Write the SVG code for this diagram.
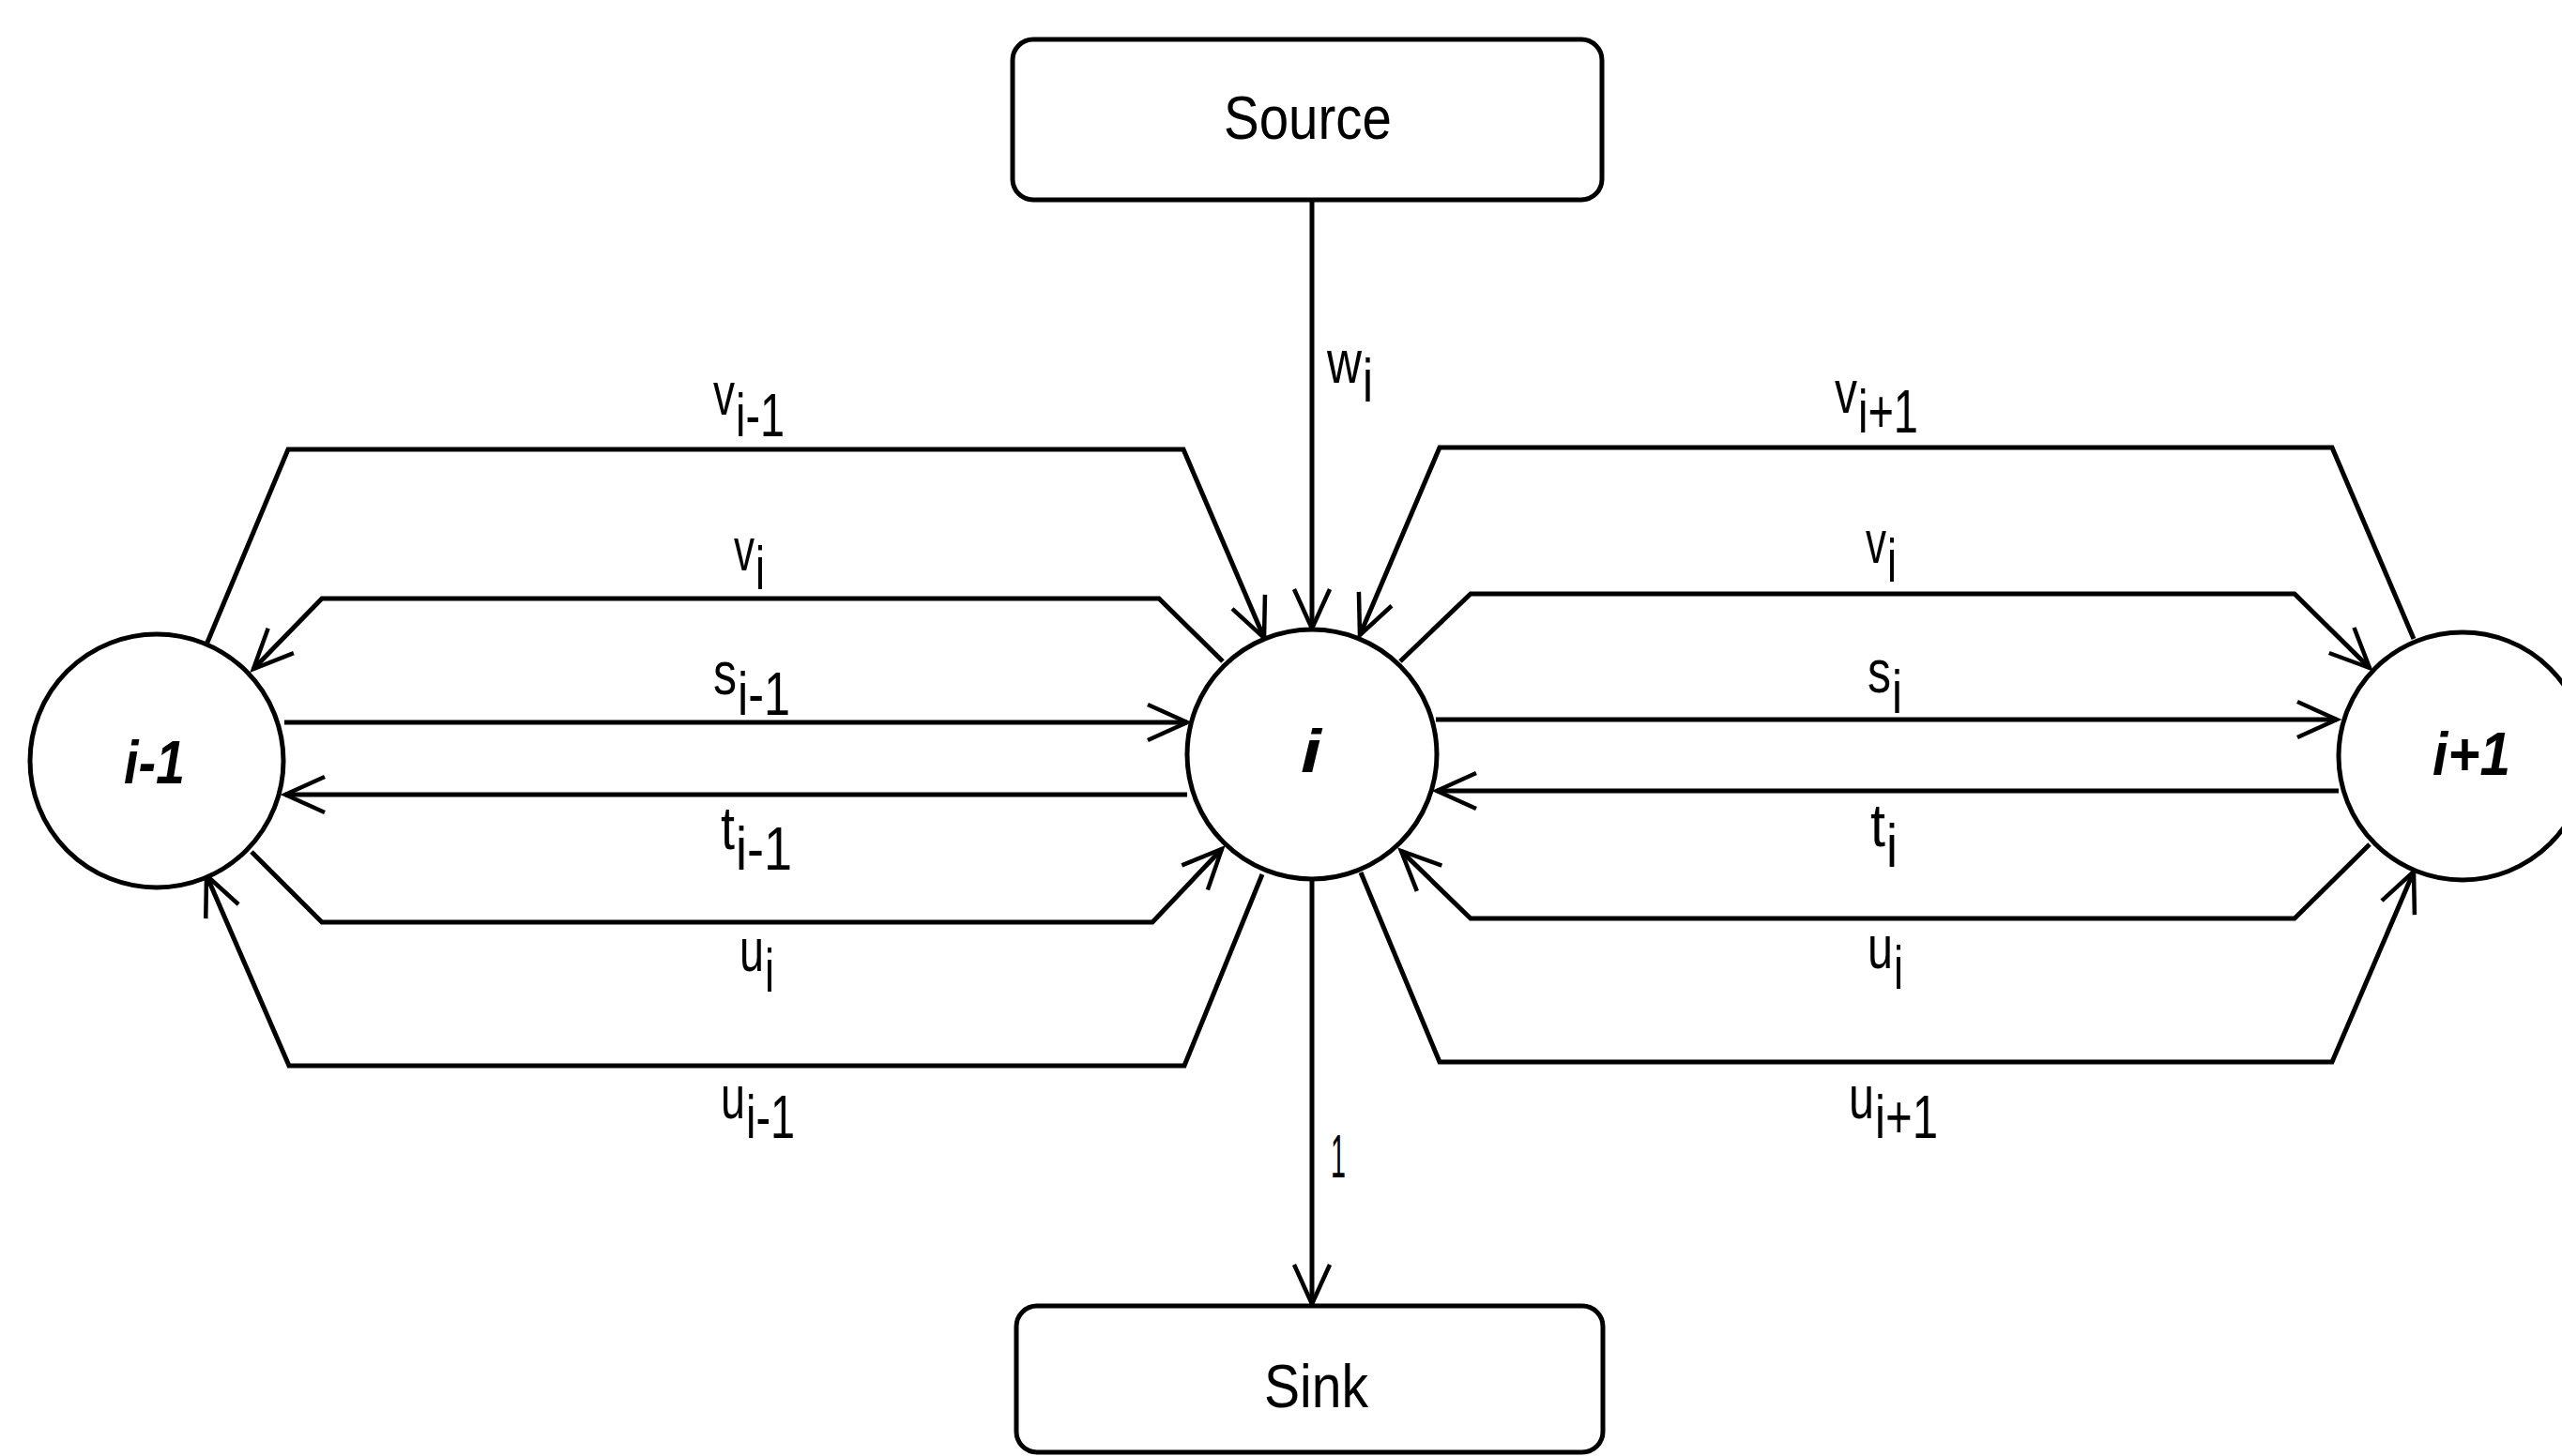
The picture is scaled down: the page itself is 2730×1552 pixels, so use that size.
<svg xmlns="http://www.w3.org/2000/svg" width="2730" height="1552" viewBox="0 0 2730 1552">
<style>
.node{fill:#fff;stroke:#000;stroke-width:5}
.edge{fill:none;stroke:#000;stroke-width:5;stroke-linejoin:miter}
.lbl{font-family:"Liberation Sans",Arial,sans-serif;font-size:64px;fill:#000}
.nlbl{font-family:"Liberation Sans",Arial,sans-serif;font-size:64px;font-weight:bold;font-style:italic;fill:#000}
</style>
<defs>
<marker id="arr" markerUnits="userSpaceOnUse" markerWidth="60" markerHeight="60" viewBox="-50 -30 60 60" refX="0" refY="0" orient="auto">
<path d="M -42 -19 L 0 0 L -42 19" fill="none" stroke="#000" stroke-width="4.5"/>
</marker>
</defs>
<rect width="2730" height="1552" fill="#fff"/>
<g id="connectors">
<line id="e-src" class="edge" x1="1398" y1="213" x2="1398" y2="670" marker-end="url(#arr)"/>
<line id="e-sink" class="edge" x1="1398" y1="937" x2="1398" y2="1390" marker-end="url(#arr)"/>
<polyline id="e-vim1" class="edge" points="220,687 307,479 1261,479 1347,680" marker-end="url(#arr)"/>
<polyline id="e-vi-l" class="edge" points="1303,705 1235,638 343,638 270,713" marker-end="url(#arr)"/>
<line id="e-sim1" class="edge" x1="303" y1="770" x2="1265" y2="770" marker-end="url(#arr)"/>
<line id="e-tim1" class="edge" x1="1265" y1="847" x2="304" y2="847" marker-end="url(#arr)"/>
<polyline id="e-ui-l" class="edge" points="268,908 343,983 1228,983 1302,905" marker-end="url(#arr)"/>
<polyline id="e-uim1" class="edge" points="1345,932 1262,1136 308,1136 220,933" marker-end="url(#arr)"/>
<polyline id="e-vip1" class="edge" points="2572,681 2485,477 1534,477 1449,677" marker-end="url(#arr)"/>
<polyline id="e-vi-r" class="edge" points="1492,705 1567,633 2445,633 2525,712" marker-end="url(#arr)"/>
<line id="e-si" class="edge" x1="1530" y1="767" x2="2490" y2="767" marker-end="url(#arr)"/>
<line id="e-ti" class="edge" x1="2492" y1="843" x2="1531" y2="843" marker-end="url(#arr)"/>
<polyline id="e-ui-r" class="edge" points="2525,900 2445,979 1567,979 1493,907" marker-end="url(#arr)"/>
<polyline id="e-uip1" class="edge" points="1450,930 1534,1132 2485,1132 2572,929" marker-end="url(#arr)"/>
</g>
<g id="edge-labels">
<text class="lbl" x="1414" y="408" textLength="37" lengthAdjust="spacingAndGlyphs">w</text>
<text class="lbl" x="1452" y="428" textLength="11" lengthAdjust="spacingAndGlyphs">i</text>
<text class="lbl" x="1418" y="1255" textLength="16" lengthAdjust="spacingAndGlyphs">1</text>

<text class="lbl" x="760" y="442" textLength="23" lengthAdjust="spacingAndGlyphs">v</text>
<text class="lbl" x="784" y="465" textLength="52" lengthAdjust="spacingAndGlyphs">i-1</text>
<text class="lbl" x="782" y="608" textLength="22" lengthAdjust="spacingAndGlyphs">v</text>
<text class="lbl" x="805" y="628" textLength="10" lengthAdjust="spacingAndGlyphs">i</text>
<text class="lbl" x="760" y="740" textLength="25" lengthAdjust="spacingAndGlyphs">s</text>
<text class="lbl" x="786" y="762" textLength="56" lengthAdjust="spacingAndGlyphs">i-1</text>
<text class="lbl" x="768" y="905" textLength="15" lengthAdjust="spacingAndGlyphs">t</text>
<text class="lbl" x="784" y="927" textLength="60" lengthAdjust="spacingAndGlyphs">i-1</text>
<text class="lbl" x="788" y="1035" textLength="26" lengthAdjust="spacingAndGlyphs">u</text>
<text class="lbl" x="815" y="1057" textLength="10" lengthAdjust="spacingAndGlyphs">i</text>
<text class="lbl" x="768" y="1192" textLength="26" lengthAdjust="spacingAndGlyphs">u</text>
<text class="lbl" x="795" y="1213" textLength="52" lengthAdjust="spacingAndGlyphs">i-1</text>

<text class="lbl" x="1955" y="440" textLength="24" lengthAdjust="spacingAndGlyphs">v</text>
<text class="lbl" x="1980" y="461" textLength="64" lengthAdjust="spacingAndGlyphs">i+1</text>
<text class="lbl" x="1988" y="600" textLength="22" lengthAdjust="spacingAndGlyphs">v</text>
<text class="lbl" x="2011" y="620" textLength="10" lengthAdjust="spacingAndGlyphs">i</text>
<text class="lbl" x="1990" y="738" textLength="25" lengthAdjust="spacingAndGlyphs">s</text>
<text class="lbl" x="2016" y="760" textLength="11" lengthAdjust="spacingAndGlyphs">i</text>
<text class="lbl" x="1993" y="902" textLength="16" lengthAdjust="spacingAndGlyphs">t</text>
<text class="lbl" x="2010" y="924" textLength="12" lengthAdjust="spacingAndGlyphs">i</text>
<text class="lbl" x="1990" y="1032" textLength="27" lengthAdjust="spacingAndGlyphs">u</text>
<text class="lbl" x="2018" y="1054" textLength="10" lengthAdjust="spacingAndGlyphs">i</text>
<text class="lbl" x="1970" y="1192" textLength="27" lengthAdjust="spacingAndGlyphs">u</text>
<text class="lbl" x="1998" y="1213" textLength="67" lengthAdjust="spacingAndGlyphs">i+1</text>
</g>
<g id="node-source">
<rect class="node" x="1079" y="42" width="628" height="171" rx="22" ry="22"/>
<text class="lbl" x="1304" y="148" textLength="179" lengthAdjust="spacingAndGlyphs">Source</text>
</g>
<g id="node-sink">
<rect class="node" x="1083" y="1392" width="625" height="156" rx="22" ry="22"/>
<text class="lbl" x="1347" y="1500" textLength="111" lengthAdjust="spacingAndGlyphs">Sink</text>
</g>
<g id="node-im1">
<circle class="node" cx="167" cy="811" r="135"/>
<text class="nlbl" x="132" y="835" textLength="65" lengthAdjust="spacingAndGlyphs">i-1</text>
</g>
<g id="node-i">
<circle class="node" cx="1398" cy="804" r="133"/>
<text class="nlbl" x="1386" y="823" textLength="22" lengthAdjust="spacingAndGlyphs">i</text>
</g>
<g id="node-ip1">
<circle class="node" cx="2624" cy="806" r="132"/>
<text class="nlbl" x="2592" y="826" textLength="83" lengthAdjust="spacingAndGlyphs">i+1</text>
</g>
</svg>
